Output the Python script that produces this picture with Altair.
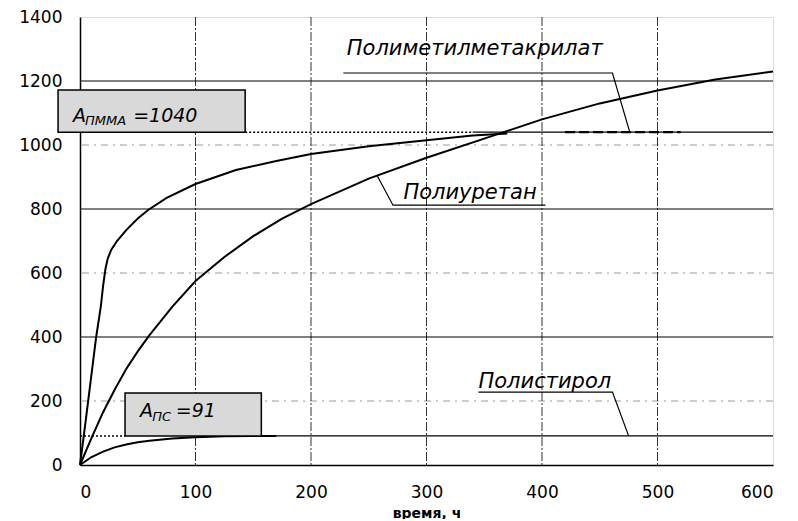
import altair as alt
import pandas as pd

# ---- data ----
x_ticks = [0, 100, 200, 300, 400, 500, 600]
y_ticks = [0, 200, 400, 600, 800, 1000, 1200, 1400]
grid_solid_y = [400, 800, 1200]
grid_dash_y = [200, 600, 1000]
grid_x = [100, 200, 300, 400, 500]

pmma_t = [0, 5, 10, 14, 18, 20, 22, 24, 27, 32, 40, 50, 59, 75, 100, 135, 170, 200, 250, 300, 340, 370]
pmma_a = [0, 140, 285, 400, 495, 560, 612, 645, 672, 700, 734, 770, 797, 835, 878, 922, 950, 972, 996, 1015, 1030, 1036]
pu_t = [0, 10, 20, 30, 40, 50, 60, 80, 100, 125, 150, 175, 200, 250, 300, 350, 400, 450, 500, 550, 600]
pu_a = [0, 85, 165, 235, 300, 355, 405, 495, 575, 650, 715, 770, 815, 895, 960, 1020, 1080, 1130, 1170, 1205, 1230]
ps_t = [0, 10, 20, 30, 40, 50, 60, 80, 100, 125, 150, 170]
ps_a = [0, 25, 42, 55, 64, 71, 76, 83, 87, 89.5, 91, 91]

# limit lines: x start, x end, level, style
lim_x0 = [143, 340, 420, 0, 157]
lim_x1 = [340, 600, 520, 39, 600]
lim_y = [1040, 1040, 1040, 91, 91]
lim_style = ["dot", "solid", "dash", "dot", "solid"]

# boxes
box_x0 = [-19, 39]
box_x1 = [143, 157]
box_y0 = [1040, 91]
box_y1 = [1172, 225]

# box texts
bt_x = [-6, 4.3, 46, 52, 62.5, 83]
bt_y = [1072, 1062, 1072, 150, 138, 150]
bt_text = ["A", "ПММА", "=1040", "A", "ПС", "=91"]
bt_kind = ["main", "sub", "main", "main", "sub", "main"]

# curve labels
lab_x = [231, 280, 345]
lab_y = [1281, 831, 240]
lab_text = ["Полиметилметакрилат", "Полиуретан", "Полистирол"]

# leader lines
ld_group = ["a", "a", "a", "b", "b", "b", "c", "c", "c"]
ld_seq = [0, 1, 2, 0, 1, 2, 0, 1, 2]
ld_x = [228, 461, 476, 403, 271, 257, 345, 461, 475]
ld_y = [1225, 1225, 1040, 812, 812, 906, 228, 228, 91]

# ---- build frames ----
curves = pd.concat([
    pd.DataFrame({"t": pmma_t, "a": pmma_a, "s": "pmma"}),
    pd.DataFrame({"t": pu_t, "a": pu_a, "s": "pu"}),
    pd.DataFrame({"t": ps_t, "a": ps_a, "s": "ps"}),
])
lims = pd.DataFrame({"x0": lim_x0, "x1": lim_x1, "y": lim_y, "st": lim_style})
boxes = pd.DataFrame({"x0": box_x0, "x1": box_x1, "y0": box_y0, "y1": box_y1})
btext = pd.DataFrame({"x": bt_x, "y": bt_y, "text": bt_text, "k": bt_kind})
labs = pd.DataFrame({"x": lab_x, "y": lab_y, "text": lab_text})
leaders = pd.DataFrame({"g": ld_group, "seq": ld_seq, "x": ld_x, "y": ld_y})

xs = alt.Scale(domain=[0, 600], nice=False, zero=False)
ys = alt.Scale(domain=[0, 1400], nice=False, zero=False)

FONT = "DejaVu Sans"

x_axis = alt.Axis(values=x_ticks, ticks=False, labelPadding=19, labelFont=FONT, labelFontSize=17,
                  labelColor="black", domainColor="black", domainWidth=1.5, grid=False, format="d",
                  title="время, ч", titleFont=FONT, titleFontSize=14, titleFontWeight="bold",
                  titleColor="black", titlePadding=6)
y_axis = alt.Axis(values=y_ticks, ticks=False, labelPadding=18, labelFont=FONT, labelFontSize=17,
                  labelColor="black", domainColor="black", domainWidth=1.5, grid=False, format="d",
                  title=None)

base_curves = alt.Chart(curves).mark_line(color="black", strokeWidth=2).encode(
    x=alt.X("t:Q", scale=xs, axis=x_axis),
    y=alt.Y("a:Q", scale=ys, axis=y_axis),
    detail="s:N",
)

gs = alt.Chart(pd.DataFrame({"y": grid_solid_y})).mark_rule(color="black", strokeWidth=1).encode(
    y=alt.Y("y:Q", scale=ys))
gd = alt.Chart(pd.DataFrame({"y": grid_dash_y})).mark_rule(
    color="#9a9a9a", strokeWidth=1, strokeDash=[7, 5, 2, 5]).encode(y=alt.Y("y:Q", scale=ys))
gx = alt.Chart(pd.DataFrame({"x": grid_x})).mark_rule(
    color="#333333", strokeWidth=1, strokeDash=[9, 2, 2, 2]).encode(x=alt.X("x:Q", scale=xs))

def lim_layer(style, **kw):
    return alt.Chart(lims).transform_filter(alt.datum.st == style).mark_rule(**kw).encode(
        x=alt.X("x0:Q", scale=xs), x2="x1:Q", y=alt.Y("y:Q", scale=ys))

l_dot = lim_layer("dot", color="black", strokeWidth=1.5, strokeDash=[2, 2])
l_solid = lim_layer("solid", color="black", strokeWidth=1.2)
l_dash = lim_layer("dash", color="black", strokeWidth=2.2, strokeDash=[10, 4])

box = alt.Chart(boxes).mark_rect(fill="#d9d9d9", stroke="black", strokeWidth=1.5).encode(
    x=alt.X("x0:Q", scale=xs), x2="x1:Q", y=alt.Y("y0:Q", scale=ys), y2="y1:Q")

bt_main = alt.Chart(btext).transform_filter(alt.datum.k == "main").mark_text(
    align="left", baseline="alphabetic", font=FONT, fontStyle="italic", fontSize=19, color="black"
).encode(x=alt.X("x:Q", scale=xs), y=alt.Y("y:Q", scale=ys), text="text:N")
bt_sub = alt.Chart(btext).transform_filter(alt.datum.k == "sub").mark_text(
    align="left", baseline="alphabetic", font=FONT, fontStyle="italic", fontSize=13, color="black"
).encode(x=alt.X("x:Q", scale=xs), y=alt.Y("y:Q", scale=ys), text="text:N")

lab = alt.Chart(labs).mark_text(
    align="left", baseline="alphabetic", font=FONT, fontStyle="italic", fontSize=21, color="black"
).encode(x=alt.X("x:Q", scale=xs), y=alt.Y("y:Q", scale=ys), text="text:N")

lead = alt.Chart(leaders).mark_line(color="black", strokeWidth=1.2).encode(
    x=alt.X("x:Q", scale=xs), y=alt.Y("y:Q", scale=ys), detail="g:N", order="seq:Q")

chart = alt.layer(
    gd, gx, gs, l_dot, l_solid, l_dash, base_curves, box, bt_main, bt_sub, lead, lab
).properties(
    width=693, height=448,
    autosize=alt.AutoSizeParams(type="none"),
    padding={"left": 72, "top": 9, "right": 17, "bottom": 54},
).configure_view(stroke="#333333", strokeWidth=1.2).configure(background="white")

chart.save("out.html", embed_options={"renderer": "svg", "actions": False})
